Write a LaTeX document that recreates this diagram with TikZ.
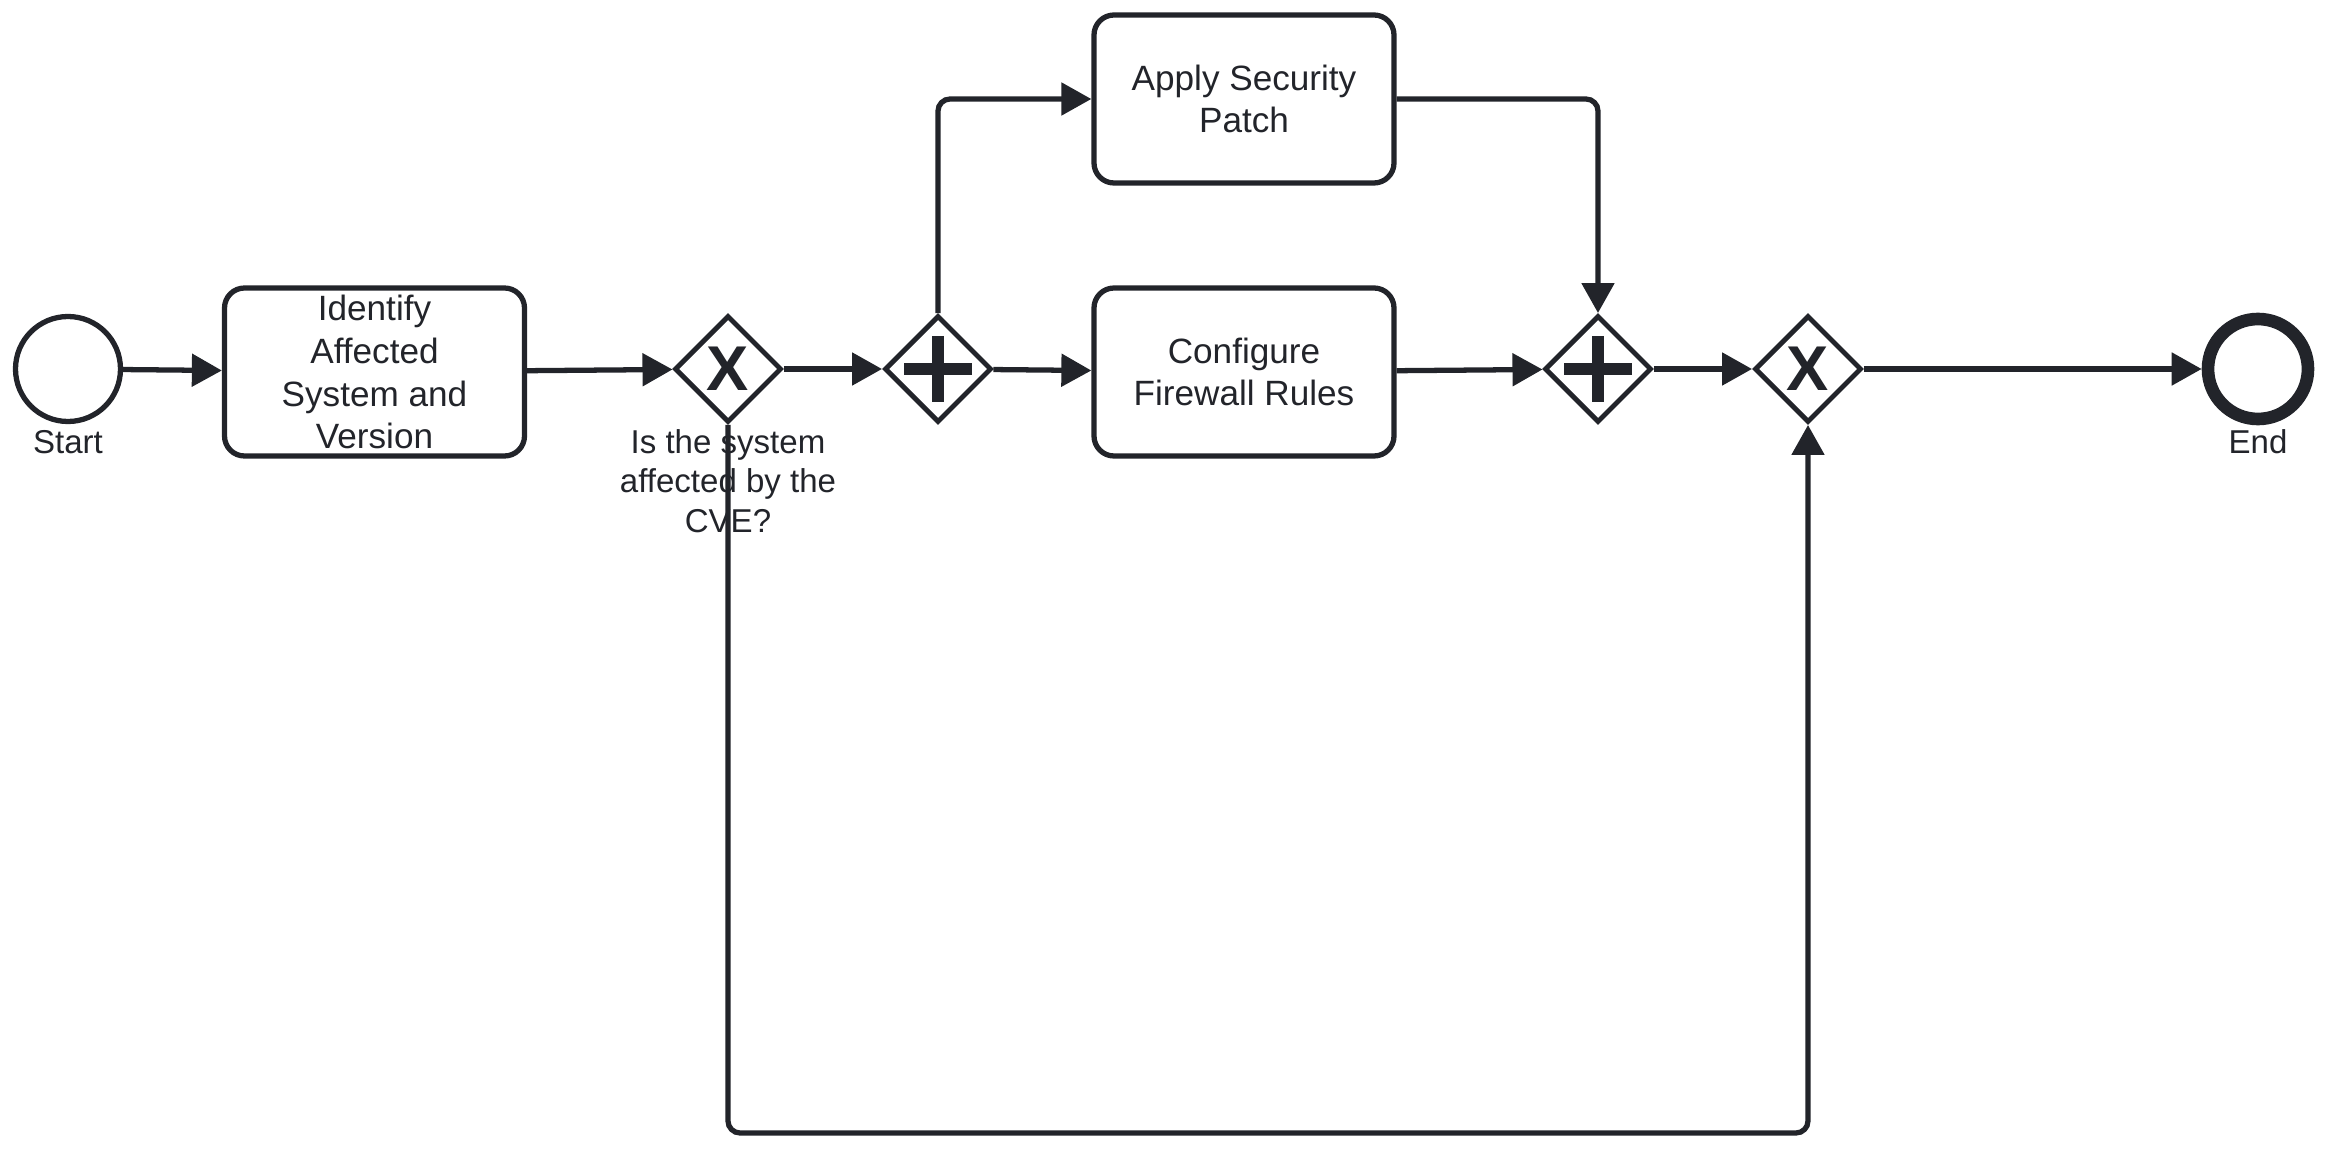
\documentclass[tikz,border=0pt]{standalone}
\usepackage{fontspec}
\setmainfont{Liberation Sans}
\usepackage{xcolor}
\usetikzlibrary{shapes.geometric,arrows.meta,positioning,calc}
\definecolor{ink}{RGB}{34,36,42}

\begin{document}
\begin{tikzpicture}[
    every node/.style={text=ink},
    event/.style={circle,draw=ink,line width=1.5pt,minimum size=1.05cm,inner sep=0pt},
    task/.style={rectangle,rounded corners=0.2cm,draw=ink,line width=1.5pt,
        minimum width=3.0cm,minimum height=1.68cm,inner sep=0pt,align=center,
        font=\fontsize{10}{12.2}\selectfont},
    gate/.style={diamond,aspect=1,draw=ink,line width=1.4pt,
        minimum width=1.07cm,minimum height=1.07cm,inner sep=0pt},
    xgate/.style={gate,font=\fontsize{18}{18}\selectfont\bfseries},
    pgate/.style={gate,path picture={
        \draw[ink,line width=3.6pt,shift={(path picture bounding box.center)}]
            (-0.34,0) -- (0.34,0) (0,0.33) -- (0,-0.33);}},
    lbl/.style={align=center,font=\fontsize{9.4}{11.2}\selectfont},
    flow/.style={draw=ink,line width=1.5pt,rounded corners=0.12cm,
        -{Triangle[length=3mm,width=3.2mm]}}
]
    \useasboundingbox (0,0) rectangle (23.31,-11.49);

    % Events
    \node[event] (start) at (0.68,-3.69) {};
    \node[lbl] (startlbl) at (0.68,-4.42) {Start};
    \node[event,line width=3.6pt,minimum size=1.0cm] (endev) at (22.58,-3.69) {};
    \node[lbl] (endlbl) at (22.58,-4.42) {End};

    % Tasks
    \node[task] (ident) at (3.745,-3.72) {Identify\\Affected\\System and\\Version};
    \node[task] (patch) at (12.44,-0.99) {Apply Security\\Patch};
    \node[task] (fw) at (12.44,-3.72) {Configure\\Firewall Rules};

    % Gateways
    \node[xgate] (xor1) at (7.28,-3.69) {X};
    \node[lbl] (question) at (7.28,-4.81) {Is the system\\affected by the\\CVE?};
    \node[pgate] (and1) at (9.38,-3.69) {};
    \node[pgate] (and2) at (15.98,-3.69) {};
    \node[xgate] (xor2) at (18.08,-3.69) {X};

    % Sequence flows
    \draw[flow] (start) -- (ident);
    \draw[flow] (ident) -- (xor1);
    \draw[flow] (xor1) -- (and1);
    \draw[flow] (and1) -- (fw);
    \draw[flow] (and1.north) |- (patch.west);
    \draw[flow] (patch.east) -| (and2.north);
    \draw[flow] (fw) -- (and2);
    \draw[flow] (and2) -- (xor2);
    \draw[flow] (xor2) -- (endev);

    % Not affected: skip to the end
    \coordinate (low) at (0,-11.33);
    \draw[flow] (xor1.south) -- (xor1.south |- low) -| (xor2.south);
\end{tikzpicture}
\end{document}
